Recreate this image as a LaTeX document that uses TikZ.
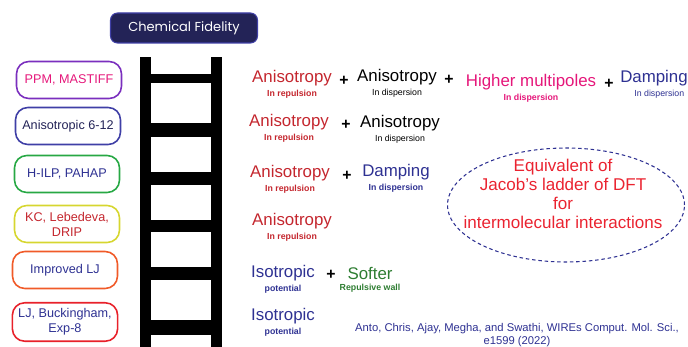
\documentclass[tikz,border=0pt]{standalone}
\usepackage{fontspec}
\setmainfont{Liberation Sans}
\newfontfamily\titlefont{Poppins}
\usetikzlibrary{positioning, shapes.geometric}

\definecolor{anired}{HTML}{C4262E}
\definecolor{navytxt}{HTML}{2E3192}
\definecolor{magtxt}{HTML}{E5177A}
\definecolor{softgreen}{HTML}{2E7D32}
\definecolor{titlenavy}{HTML}{232357}
\definecolor{jacobred}{HTML}{EA2330}
\definecolor{c-ppm}{HTML}{7B2FBE}
\definecolor{c-ani}{HTML}{3F3FA6}
\definecolor{c-hilp}{HTML}{27A844}
\definecolor{c-kc}{HTML}{D6D630}
\definecolor{c-imp}{HTML}{F05A28}
\definecolor{c-lj}{HTML}{E8212A}

\begin{document}
\begin{tikzpicture}[x=0.02cm, y=-0.02cm,
    node distance=2.3pt and 6pt,
    model/.style={draw, line width=0.9pt, rounded corners=7pt, minimum width=2.1cm, minimum height=0.74cm,
                  align=center, text=navytxt, font=\fontsize{7.2}{8.5}\selectfont},
    term/.style={inner sep=0pt, font=\fontsize{9.6}{11}\selectfont},
    sub/.style={inner sep=0pt, font=\fontsize{5}{6}\selectfont\bfseries},
    subreg/.style={inner sep=0pt, font=\fontsize{5}{6}\selectfont},
    plus/.style={inner sep=0pt, font=\fontsize{9}{10}\selectfont\bfseries}]
    \useasboundingbox (0,0) rectangle (688,347);

    % ladder
    \fill (140,57) rectangle (151,347);
    \fill (211,57) rectangle (222,347);
    \foreach \t/\b in {74/83, 123/137, 172/185, 220/232, 267/280, 320/335}
      \fill (151,\t) rectangle (211,\b);

    \node[fill=titlenavy, draw=c-ani, line width=0.6pt, rounded corners=4pt, minimum width=2.94cm,
          minimum height=0.6cm, text=white, font=\titlefont\fontsize{7.4}{9}\selectfont] (title) at (184,28) {Chemical Fidelity};

    % force fields on the left
    \node[model, draw=c-ppm, text=magtxt] (ppm)    at (69,80)  {PPM, MASTIFF};
    \node[model, draw=c-ani, text=titlenavy] (ani612) at (68,126) {Anisotropic 6-12};
    \node[model, draw=c-hilp]              (hilp)   at (67,174) {H-ILP, PAHAP};
    \node[model, draw=c-kc, text=anired]   (kc)     at (67,224) {KC, Lebedeva,\\DRIP};
    \node[model, draw=c-imp]               (implj)  at (65,270) {Improved LJ};
    \node[model, draw=c-lj]                (ljb)    at (65,322) {LJ, Buckingham,\\Exp-8};

    % rung 1
    \node[term, text=anired] (r1a) at (292,78) {Anisotropy};
    \node[sub, text=anired, below=of r1a] {In repulsion};
    \node[plus] (r1p1) at (344,81) {+};
    \node[term] (r1b) at (397,77) {Anisotropy};
    \node[subreg, below=of r1b] {In dispersion};
    \node[plus] (r1p2) at (449,80) {+};
    \node[term, text=magtxt] (r1c) at (531,82) {Higher multipoles};
    \node[sub, text=magtxt, below=of r1c] {In dispersion};
    \node[plus] (r1p3) at (609,84) {+};
    \node[term, text=navytxt] (r1d) at (654,78) {Damping};
    \node[subreg, text=navytxt, below=of r1d, xshift=3pt] {In dispersion};

    % rung 2
    \node[term, text=anired] (r2a) at (289,122) {Anisotropy};
    \node[sub, text=anired, below=of r2a] {In repulsion};
    \node[plus] (r2p1) at (346,125) {+};
    \node[term] (r2b) at (400,123) {Anisotropy};
    \node[subreg, below=of r2b] {In dispersion};

    % rung 3
    \node[term, text=anired] (r3a) at (290,173) {Anisotropy};
    \node[sub, text=anired, below=of r3a] {In repulsion};
    \node[plus] (r3p1) at (347,176) {+};
    \node[term, text=navytxt] (r3b) at (396,172) {Damping};
    \node[sub, text=navytxt, below=of r3b] {In dispersion};

    % rung 4
    \node[term, text=anired] (r4a) at (292,221) {Anisotropy};
    \node[sub, text=anired, below=of r4a] {In repulsion};

    % rung 5
    \node[term, text=navytxt] (r5a) at (283,273) {Isotropic};
    \node[sub, text=navytxt, below=of r5a] {potential};
    \node[plus] (r5p1) at (331,275) {+};
    \node[term, text=softgreen] (r5b) at (370,273) {Softer};
    \node[sub, text=softgreen, below=of r5b] {Repulsive wall};

    % rung 6
    \node[term, text=navytxt] (r6a) at (283,316) {Isotropic};
    \node[sub, text=navytxt, below=of r6a] {potential};

    % Jacob's ladder note
    \node[draw=navytxt, dashed, dash pattern=on 2pt off 1.6pt, line width=0.6pt, ellipse,
          minimum width=4.74cm, minimum height=2.28cm] (jacob) at (566,205) {};
    \node[align=center, text=jacobred, font=\fontsize{9.7}{10.9}\selectfont] (jacobtxt) at (563,194)
      {Equivalent of\\Jacob's ladder of DFT\\for\\intermolecular interactions};

    \node[align=center, text=navytxt, font=\fontsize{6.4}{7.4}\selectfont] (cite) at (517,335)
      {Anto, Chris, Ajay, Megha, and Swathi, WIREs Comput. Mol. Sci.,\\e1599 (2022)};
\end{tikzpicture}
\end{document}
